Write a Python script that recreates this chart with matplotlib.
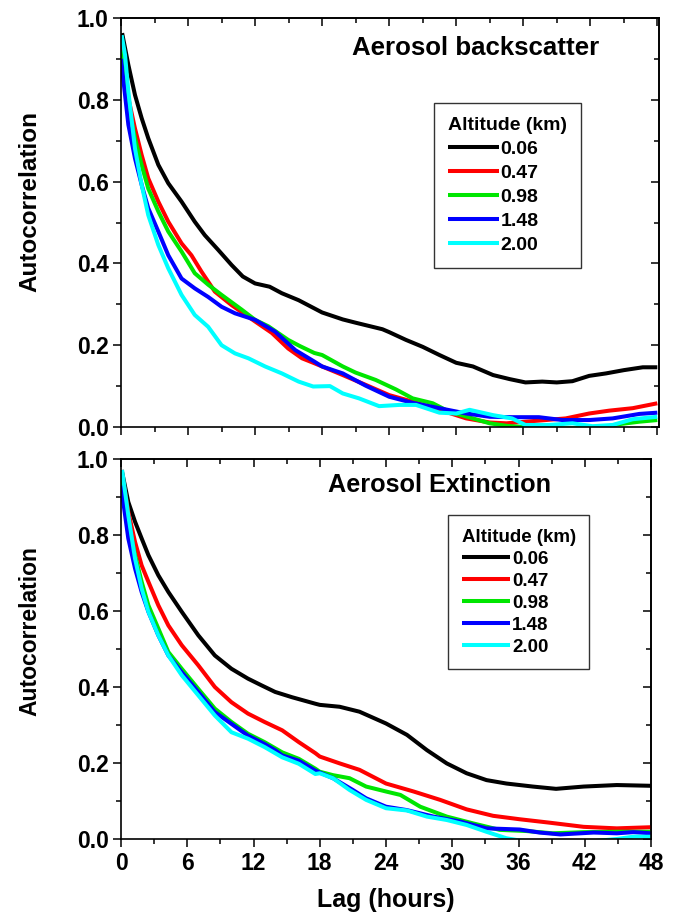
import matplotlib
matplotlib.use("Agg")
import matplotlib.pyplot as plt
import numpy as np

plt.rcParams['font.family'] = ['Liberation Sans', 'DejaVu Sans']
plt.rcParams['font.weight'] = 'bold'

altitudes = ["0.06", "0.47", "0.98", "1.48", "2.00"]
colors = ["#000000", "#ff0000", "#00e600", "#0000ff", "#00ffff"]
xticks = [0, 6, 12, 18, 24, 30, 36, 42, 48]

# ---------------- Top panel: Aerosol backscatter ----------------
bs_006_t = [0.1, 0.66, 1.25, 1.85, 2.44, 3.34, 4.23, 5.42, 6.6, 7.5, 8.7, 9.9, 10.9, 12.0, 13.3, 14.4, 15.9, 17.3,
            18.0, 19.85, 21.0, 23.4, 24.0, 25.5, 27.0, 28.5, 30.0, 31.5, 33.3, 34.8, 36.2, 37.7, 39.0, 40.4, 41.9,
            43.4, 45.0, 46.7, 48.0]
bs_006_v = [0.963, 0.885, 0.812, 0.755, 0.706, 0.641, 0.596, 0.551, 0.502, 0.469, 0.433, 0.396, 0.368, 0.351, 0.343,
            0.327, 0.31, 0.29, 0.28, 0.263, 0.255, 0.239, 0.232, 0.213, 0.196, 0.176, 0.157, 0.148, 0.127, 0.117,
            0.109, 0.111, 0.109, 0.112, 0.125, 0.131, 0.139, 0.146, 0.146]

bs_047_t = [0.0, 0.66, 1.25, 1.85, 2.44, 3.34, 4.23, 5.42, 6.3, 7.2, 8.4, 9.9, 12.0, 13.5, 14.96, 16.2, 17.3, 18.0,
            19.85, 21.9, 24.0, 26.1, 28.5, 30.9, 33.0, 34.5, 36.2, 38.0, 39.8, 41.9, 43.7, 45.8, 48.0]
bs_047_v = [0.94, 0.804, 0.73, 0.665, 0.608, 0.551, 0.502, 0.449, 0.42, 0.38, 0.331, 0.298, 0.258, 0.23, 0.192,
            0.168, 0.156, 0.148, 0.127, 0.103, 0.078, 0.062, 0.042, 0.021, 0.011, 0.009, 0.013, 0.017, 0.021, 0.033,
            0.04, 0.046, 0.058]

bs_098_t = [0.0, 0.66, 1.25, 1.85, 2.44, 3.34, 4.23, 5.42, 6.6, 7.8, 9.0, 10.8, 12.0, 13.2, 14.96, 16.0, 17.3, 18.0,
            19.85, 21.0, 22.8, 24.6, 26.1, 27.9, 29.4, 31.5, 33.0, 34.5, 36.8, 39.8, 42.8, 44.6, 46.4, 48.0]
bs_098_v = [0.92, 0.787, 0.706, 0.64, 0.583, 0.527, 0.478, 0.429, 0.376, 0.348, 0.323, 0.287, 0.262, 0.246, 0.213,
            0.198, 0.181, 0.176, 0.148, 0.133, 0.115, 0.092, 0.07, 0.058, 0.037, 0.021, 0.009, 0.003, -0.002, -0.004,
            -0.002, 0.007, 0.013, 0.017]

bs_148_t = [0.0, 0.66, 1.25, 1.85, 2.44, 3.34, 4.23, 5.42, 6.6, 7.8, 9.0, 10.2, 12.0, 13.8, 15.6, 17.3, 18.0, 19.85,
            21.9, 24.0, 26.1, 28.5, 30.9, 33.0, 35.0, 37.4, 39.5, 41.9, 44.0, 46.4, 48.0]
bs_148_v = [0.9, 0.739, 0.657, 0.592, 0.535, 0.478, 0.42, 0.363, 0.339, 0.318, 0.294, 0.278, 0.262, 0.233, 0.188,
            0.16, 0.148, 0.131, 0.101, 0.074, 0.059, 0.046, 0.033, 0.025, 0.024, 0.024, 0.017, 0.017, 0.021, 0.032,
            0.035]

bs_200_t = [0.06, 0.36, 0.66, 1.25, 1.85, 2.44, 3.34, 4.23, 5.42, 6.6, 7.8, 9.0, 10.2, 11.4, 12.9, 14.4, 15.9, 17.2,
            18.7, 19.85, 21.3, 23.1, 24.9, 26.4, 28.5, 30.0, 31.2, 33.3, 35.0, 36.2, 38.3, 40.4, 42.2, 44.0, 45.8,
            48.0]
bs_200_v = [0.958, 0.91, 0.82, 0.681, 0.592, 0.518, 0.445, 0.388, 0.323, 0.274, 0.245, 0.2, 0.18, 0.168, 0.148,
            0.131, 0.111, 0.099, 0.1, 0.082, 0.07, 0.051, 0.054, 0.054, 0.035, 0.033, 0.042, 0.029, 0.021, 0.005,
            0.005, 0.009, 0.002, 0.005, 0.019, 0.025]

# ---------------- Bottom panel: Aerosol extinction ----------------
ex_006_t = [0.06, 0.66, 1.27, 1.87, 2.48, 3.38, 4.29, 5.5, 7.0, 8.5, 10.0, 11.5, 12.75, 13.96, 15.5, 17.6, 18.0, 19.8,
            21.6, 24.0, 25.9, 27.7, 29.5, 31.3, 33.1, 34.9, 37.3, 39.4, 41.9, 44.9, 48.0]
ex_006_v = [0.971, 0.887, 0.835, 0.791, 0.747, 0.694, 0.65, 0.598, 0.536, 0.483, 0.448, 0.422, 0.404, 0.387, 0.373,
            0.356, 0.353, 0.348, 0.335, 0.304, 0.274, 0.234, 0.199, 0.173, 0.155, 0.146, 0.138, 0.132, 0.138, 0.142,
            0.14]

ex_047_t = [0.1, 0.66, 1.27, 1.87, 2.48, 3.38, 4.29, 5.5, 7.0, 8.5, 10.0, 11.5, 13.0, 14.6, 16.1, 17.6, 18.0, 19.8,
            21.6, 24.0, 26.5, 28.9, 31.3, 33.7, 36.1, 38.8, 41.9, 44.9, 48.0]
ex_047_v = [0.96, 0.861, 0.782, 0.72, 0.677, 0.615, 0.562, 0.51, 0.457, 0.4, 0.36, 0.33, 0.308, 0.286, 0.255, 0.226,
            0.217, 0.199, 0.182, 0.146, 0.125, 0.103, 0.078, 0.061, 0.052, 0.043, 0.032, 0.028, 0.031]

ex_098_t = [0.06, 0.66, 1.27, 1.87, 2.48, 3.38, 4.29, 5.5, 7.0, 8.5, 10.0, 11.5, 13.0, 14.6, 16.1, 17.6, 18.0, 19.2,
            20.7, 22.2, 24.0, 25.3, 27.1, 29.5, 31.9, 34.3, 36.7, 39.1, 41.9, 44.9, 48.0]
ex_098_v = [0.95, 0.835, 0.747, 0.677, 0.615, 0.554, 0.492, 0.448, 0.395, 0.343, 0.308, 0.277, 0.255, 0.228, 0.211,
            0.185, 0.177, 0.168, 0.16, 0.138, 0.125, 0.116, 0.085, 0.059, 0.041, 0.024, 0.021, 0.015, 0.018, 0.019,
            0.019]

ex_148_t = [0.0, 0.66, 1.27, 1.87, 2.48, 3.38, 4.29, 5.5, 7.0, 8.5, 10.0, 11.5, 13.0, 14.0, 14.6, 16.1, 17.6, 19.2,
            21.0, 22.2, 24.0, 25.9, 28.3, 30.7, 33.1, 36.1, 37.9, 39.8, 42.8, 44.9, 46.4, 48.0]
ex_148_v = [0.93, 0.791, 0.712, 0.65, 0.598, 0.536, 0.483, 0.439, 0.387, 0.334, 0.303, 0.272, 0.25, 0.233, 0.22,
            0.206, 0.18, 0.16, 0.129, 0.107, 0.085, 0.076, 0.059, 0.046, 0.028, 0.025, 0.017, 0.012, 0.017, 0.015,
            0.018, 0.015]

ex_200_t = [0.1, 0.66, 1.27, 1.87, 2.48, 3.38, 4.29, 5.5, 7.0, 8.5, 10.0, 11.5, 13.0, 14.6, 16.1, 17.6, 18.0, 19.2,
            20.7, 22.2, 24.0, 25.9, 27.7, 29.5, 31.3, 33.1, 34.9, 36.1, 38.0, 40.0, 42.0, 44.9, 46.4, 48.0]
ex_200_v = [0.971, 0.852, 0.738, 0.659, 0.598, 0.536, 0.483, 0.431, 0.378, 0.325, 0.281, 0.264, 0.242, 0.215, 0.198,
            0.171, 0.173, 0.16, 0.129, 0.103, 0.081, 0.075, 0.059, 0.05, 0.037, 0.019, 0.002, -0.004, -0.008, -0.01,
            -0.008, 0.0, 0.006, 0.006]

bs_series = [(bs_006_t, bs_006_v), (bs_047_t, bs_047_v), (bs_098_t, bs_098_v),
             (bs_148_t, bs_148_v), (bs_200_t, bs_200_v)]
ex_series = [(ex_006_t, ex_006_v), (ex_047_t, ex_047_v), (ex_098_t, ex_098_v),
             (ex_148_t, ex_148_v), (ex_200_t, ex_200_v)]

W, H = 673, 917
fig = plt.figure(figsize=(W / 100, H / 100), dpi=100)


def px_rect(l, t, r, b):
    return [l / W, 1 - b / H, (r - l) / W, (b - t) / H]


ax1 = fig.add_axes(px_rect(121, 18, 659, 427))
ax2 = fig.add_axes(px_rect(121, 459, 651, 839))

LW = 2.9
yt_major = [0.0, 0.2, 0.4, 0.6, 0.8, 1.0]
yt_minor = [0.1, 0.3, 0.5, 0.7, 0.9]
xt_minor = list(np.arange(3, 48, 6))


def style(ax, xmax, show_xlabels):
    ax.set_xlim(0, xmax)
    ax.set_ylim(0, 1.0)
    ax.set_xticks(xticks)
    ax.set_xticks(xt_minor, minor=True)
    ax.set_yticks(yt_major)
    ax.set_yticks(yt_minor, minor=True)
    ax.set_yticklabels(["0.0", "0.2", "0.4", "0.6", "0.8", "1.0"])
    if not show_xlabels:
        ax.set_xticklabels([])
    for s in ax.spines.values():
        s.set_linewidth(1.2)
    ax.tick_params(axis='both', which='major', direction='out', length=6, width=1.1,
                   labelsize=16.5, pad=3)
    ax.tick_params(axis='both', which='minor', direction='out', length=3.3, width=1.1)
    sec_x = ax.secondary_xaxis('top')
    sec_x.set_xticks(xticks)
    sec_x.set_xticks(xt_minor, minor=True)
    sec_x.set_xticklabels([])
    sec_x.tick_params(which='major', direction='in', length=6, width=1.1)
    sec_x.tick_params(which='minor', direction='in', length=3.3, width=1.1)
    sec_x.spines['top'].set_linewidth(1.2)
    sec_y = ax.secondary_yaxis('right')
    sec_y.set_yticks(yt_major)
    sec_y.set_yticks(yt_minor, minor=True)
    sec_y.set_yticklabels([])
    sec_y.tick_params(which='major', direction='in', length=6, width=1.1)
    sec_y.tick_params(which='minor', direction='in', length=3.3, width=1.1)
    sec_y.spines['right'].set_linewidth(1.2)
    for lab in ax.get_xticklabels() + ax.get_yticklabels():
        lab.set_fontweight('bold')


for ax, series, xmax, title, tx, ty, tfs, showx, lab_y, lab_fs in [
        (ax1, bs_series, 48.15, "Aerosol backscatter", 352, 48, 18.6, False, 202, 17.5),
        (ax2, ex_series, 48.0, "Aerosol Extinction", 328, 485, 18.2, True, 631, 16.5)]:
    for (t, v), c, a in zip(series, colors, altitudes):
        ax.plot(t, v, color=c, lw=LW, label=a, solid_capstyle='butt', solid_joinstyle='round')
    style(ax, xmax, showx)
    fig.text(tx / W, 1 - ty / H, title, fontsize=tfs, fontweight='bold', ha='left', va='center')
    fig.text(30 / W, 1 - lab_y / H, "Autocorrelation", fontsize=lab_fs, fontweight='bold',
             rotation=90, ha='center', va='center')

ax2.set_xlabel("Lag (hours)", fontsize=18, fontweight='bold', labelpad=10)


def make_legend(ax, left, top, fs, lspace, bpad):
    leg = ax.legend(loc='upper left', bbox_to_anchor=(left / W, 1 - top / H),
                    bbox_transform=fig.transFigure, title="Altitude (km)",
                    prop={'size': fs, 'weight': 'bold'}, title_fontproperties={'size': fs, 'weight': 'bold'},
                    frameon=True, fancybox=False, edgecolor='#333333', framealpha=1,
                    handlelength=2.6, handletextpad=0.1, labelspacing=lspace, borderpad=bpad,
                    borderaxespad=0, alignment='left')
    leg.get_frame().set_linewidth(1.0)
    return leg


make_legend(ax1, 434, 103, 14, 0.33, 0.72)
make_legend(ax2, 448, 515, 13.5, 0.26, 0.72)

fig.savefig("out.png", dpi=100)
